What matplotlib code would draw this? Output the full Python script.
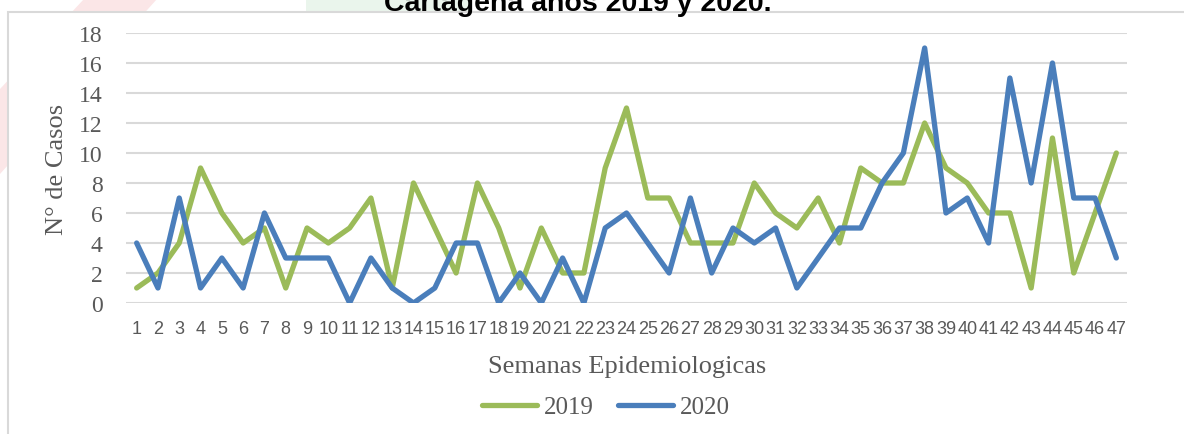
import matplotlib
matplotlib.use("Agg")
import matplotlib.pyplot as plt
from matplotlib.patches import Rectangle, Polygon
from matplotlib.lines import Line2D

weeks = list(range(1, 48))
cases_2019 = [1, 2, 4, 9, 6, 4, 5, 1, 5, 4, 5, 7, 1, 8, 5, 2, 8, 5, 1, 5, 2, 2, 9, 13,
              7, 7, 4, 4, 4, 8, 6, 5, 7, 4, 9, 8, 8, 12, 9, 8, 6, 6, 1, 11, 2, 6, 10]
cases_2020 = [4, 1, 7, 1, 3, 1, 6, 3, 3, 3, 0, 3, 1, 0, 1, 4, 4, 0, 2, 0, 3, 0, 5, 6,
              4, 2, 7, 2, 5, 4, 5, 1, 3, 5, 5, 8, 10, 17, 6, 7, 4, 15, 8, 16, 7, 7, 3]
series_labels = ["2019", "2020"]
y_ticks = list(range(0, 19, 2))
title_text = "Cartagena años 2019 y 2020."
x_label = "Semanas Epidemiologicas"
y_label = "N° de Casos"

W, H = 1184, 435
fig = plt.figure(figsize=(W / 100, H / 100), dpi=100)
fig.patch.set_facecolor("white")

def fx(px):
    return px / W

def fy(py):
    return 1 - py / H

# faint background watermark shapes
pink = Polygon([(fx(84), fy(0)), (fx(157), fy(0)), (fx(0), fy(175)), (fx(0), fy(90))],
               closed=True, transform=fig.transFigure, facecolor="#FBE6E7",
               edgecolor="none", zorder=-3)
green = Polygon([(fx(306), fy(0)), (fx(471), fy(0)), (fx(471), fy(20)), (fx(306), fy(20))],
                closed=True, transform=fig.transFigure, facecolor="#EAF5EC",
                edgecolor="none", zorder=-3)
fig.patches.extend([pink, green])

# chart box
box = Rectangle((fx(8), -0.05), 1.2, fy(13) + 0.05, transform=fig.transFigure,
                facecolor="white", edgecolor="#D9D9D9", linewidth=1.5, zorder=-2)
fig.patches.append(box)

# title (clipped at top like the reference)
fig.text(fx(578), fy(11), title_text, ha="center", va="baseline",
         fontsize=20.5, fontweight="bold", color="black", zorder=-1,
         family=["Liberation Sans Narrow", "Liberation Sans"])

ax = fig.add_axes([fx(126), fy(304), fx(1127) - fx(126), fy(34) - fy(304)])
ax.set_facecolor("none")

green_c = "#9BBB59"
blue_c = "#4A7EBB"
ax.plot(weeks, cases_2019, color=green_c, lw=3.8, solid_capstyle="round",
        solid_joinstyle="round", label=series_labels[0], zorder=3)
ax.plot(weeks, cases_2020, color=blue_c, lw=3.8, solid_capstyle="round",
        solid_joinstyle="round", label=series_labels[1], zorder=4)

ax.set_xlim(0.5, 47.5)
ax.set_ylim(0, 18)
ax.set_yticks(y_ticks)
ax.set_xticks(weeks)
ax.set_xticklabels([str(w) for w in weeks])
ax.grid(axis="y", color="#D9D9D9", lw=1.5, zorder=0)
ax.set_axisbelow(True)
for s in ax.spines.values():
    s.set_visible(False)
ax.tick_params(axis="both", length=0)
ax.tick_params(axis="y", pad=17, labelcolor="#595959")
ax.tick_params(axis="x", pad=12, labelcolor="#595959")
for t in ax.get_yticklabels():
    t.set_family("Liberation Serif")
    t.set_fontsize(17)
for t in ax.get_xticklabels():
    t.set_family(["Liberation Sans Narrow", "Liberation Sans"])
    t.set_fontsize(13)

fig.text(fx(57), fy(169), y_label, rotation=90, ha="center", va="center",
         fontsize=19, color="#595959", family="Liberation Serif")
fig.text(fx(627), fy(367), x_label, ha="center", va="center",
         fontsize=19, color="#595959", family="Liberation Serif")

handles = [Line2D([0], [0], color=green_c, lw=3.8, solid_capstyle="round"),
           Line2D([0], [0], color=blue_c, lw=3.8, solid_capstyle="round")]
leg = fig.legend(handles, series_labels, loc="center", bbox_to_anchor=(fx(606), fy(408)),
                 ncol=2, frameon=False, handlelength=2.2, handletextpad=0.25,
                 columnspacing=1.0, prop={"family": "Liberation Serif", "size": 18})
for t in leg.get_texts():
    t.set_color("#595959")

fig.savefig("out.png", dpi=100)
